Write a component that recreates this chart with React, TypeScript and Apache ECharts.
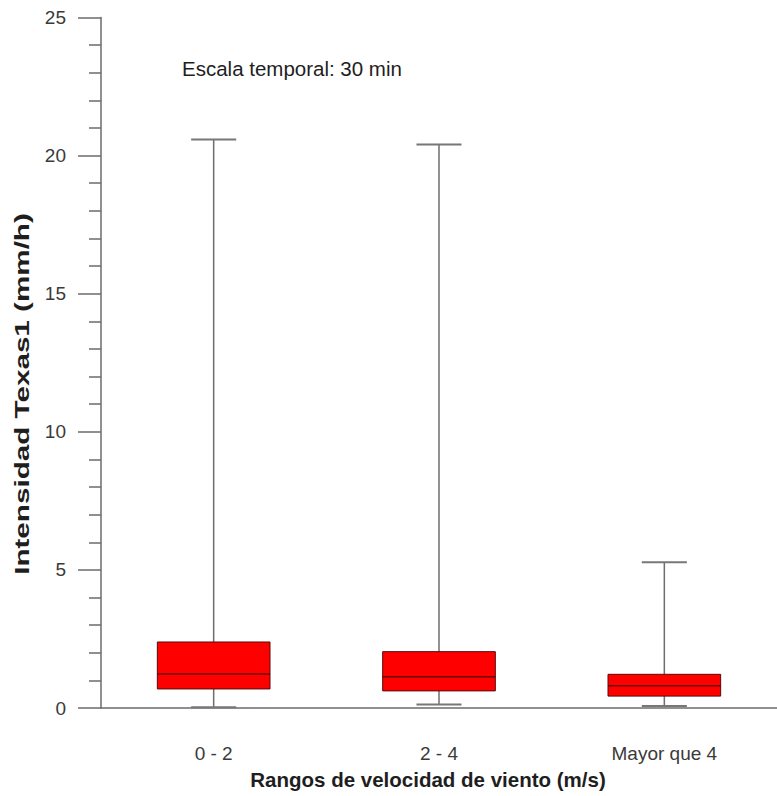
import React, { useEffect, useRef } from "react";
import * as echarts from "echarts";

const categories = ["0 - 2", "2 - 4", "Mayor que 4"];
const minValues = [0.03, 0.13, 0.07];
const q1Values = [0.69, 0.62, 0.43];
const medianValues = [1.23, 1.13, 0.81];
const q3Values = [2.39, 2.04, 1.22];
const maxValues = [20.58, 20.4, 5.28];
const yTicks = [0, 5, 10, 15, 20, 25];

const FONT = "'Liberation Sans', Arial, Helvetica, sans-serif";

export default function App() {
  const ref = useRef<HTMLDivElement>(null);
  useEffect(() => {
    if (!ref.current) return;
    const chart = echarts.init(ref.current, null, { renderer: "svg" });
    const rows = categories.map((_, i) => [
      i,
      minValues[i],
      q1Values[i],
      medianValues[i],
      q3Values[i],
      maxValues[i],
    ]);
    const option: any = {
      animation: false,
      backgroundColor: "#ffffff",
      grid: { left: 101, top: 17.5, bottom: 88, right: -9, containLabel: false },
      xAxis: {
        type: "category",
        data: categories,
        boundaryGap: true,
        axisLine: { lineStyle: { color: "#6b6b6b", width: 1.5 } },
        axisTick: { alignWithLabel: true, length: 23, lineStyle: { color: "#6b6b6b", width: 1.5 } },
        axisLabel: { margin: 36, fontSize: 19, color: "#3a3a3a", fontFamily: FONT },
        splitLine: { show: false },
      },
      yAxis: {
        type: "value",
        min: yTicks[0],
        max: yTicks[yTicks.length - 1],
        interval: 5,
        axisLine: { show: true, lineStyle: { color: "#6b6b6b", width: 1.5 } },
        axisTick: { show: true, length: 23, lineStyle: { color: "#6b6b6b", width: 1.5 } },
        minorTick: { show: true, splitNumber: 5, length: 12, lineStyle: { color: "#6b6b6b", width: 1.5 } },
        axisLabel: { margin: 35, fontSize: 19, color: "#3a3a3a", fontFamily: FONT },
        splitLine: { show: false },
      },
      series: [
        {
          type: "custom",
          data: rows,
          encode: { x: 0, y: [1, 2, 3, 4, 5] },
          renderItem: (params: any, api: any) => {
            const i = api.value(0);
            const pMin = api.coord([i, api.value(1)]);
            const pQ1 = api.coord([i, api.value(2)]);
            const pMed = api.coord([i, api.value(3)]);
            const pQ3 = api.coord([i, api.value(4)]);
            const pMax = api.coord([i, api.value(5)]);
            const band = api.size([1, 0])[0];
            const boxW = band * 0.5;
            const capW = band * 0.2;
            const x = pMin[0];
            const gray = { stroke: "#6e6e6e", lineWidth: 1.5 };
            return {
              type: "group",
              children: [
                { type: "line", shape: { x1: x, y1: pMin[1], x2: x, y2: pMax[1] }, style: gray },
                { type: "line", shape: { x1: x - capW / 2, y1: pMax[1], x2: x + capW / 2, y2: pMax[1] }, style: { stroke: "#777", lineWidth: 2 } },
                { type: "line", shape: { x1: x - capW / 2, y1: pMin[1], x2: x + capW / 2, y2: pMin[1] }, style: { stroke: "#777", lineWidth: 2 } },
                {
                  type: "rect",
                  shape: { x: x - boxW / 2, y: pQ3[1], width: boxW, height: pQ1[1] - pQ3[1] },
                  style: { fill: "#ff0000", stroke: "#5a0a0a", lineWidth: 1 },
                },
                {
                  type: "line",
                  shape: { x1: x - boxW / 2, y1: pMed[1], x2: x + boxW / 2, y2: pMed[1] },
                  style: { stroke: "#6a0000", lineWidth: 1.5 },
                },
              ],
            };
          },
        },
      ],
      graphic: [
        {
          type: "text",
          left: 182,
          top: 58,
          style: { text: "Escala temporal: 30 min", font: `20.5px ${FONT}`, fill: "#1e1e1e" },
        },
        {
          type: "text",
          x: 22,
          y: 394,
          rotation: Math.PI / 2,
          scaleX: 1.52,
          style: {
            text: "Intensidad Texas1 (mm/h)",
            font: `bold 19.5px ${FONT}`,
            fill: "#1e1e1e",
            textAlign: "center",
            textVerticalAlign: "middle",
          },
        },
        {
          type: "text",
          x: 428,
          y: 779,
          style: {
            text: "Rangos de velocidad de viento (m/s)",
            font: `bold 20.5px ${FONT}`,
            fill: "#1e1e1e",
            textAlign: "center",
            textVerticalAlign: "middle",
          },
        },
      ],
    };
    chart.setOption(option);
    return () => chart.dispose();
  }, []);
  return (
    <div
      ref={ref}
      style={{ position: "fixed", left: 0, top: 0, width: 777, height: 796, background: "#fff" }}
    />
  );
}
